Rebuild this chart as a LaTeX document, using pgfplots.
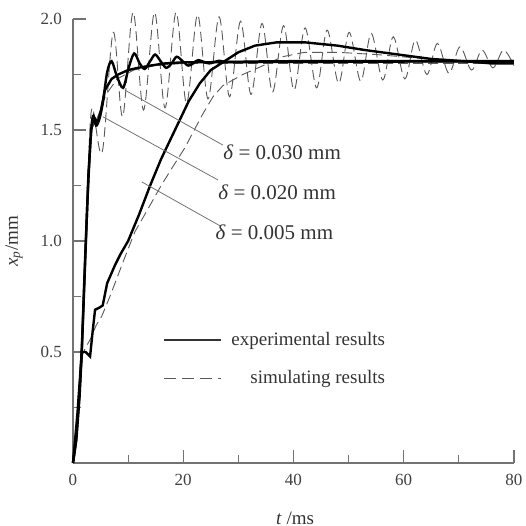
\documentclass[border=0pt]{standalone}
\usepackage{fontspec}
\setmainfont{Liberation Serif}
\usepackage{pgfplots}
\pgfplotsset{compat=1.18}
\definecolor{axgray}{gray}{0.45}
\definecolor{simgray}{gray}{0.35}

\begin{document}
\begin{tikzpicture}
\begin{axis}[
    scale only axis,
    width=220.5pt, height=222pt,
    xmin=0, xmax=80, ymin=0, ymax=2,
    axis lines=left,
    axis line style={-, axgray, line width=0.6pt},
    tick align=inside,
    major tick length=6.5pt, minor tick length=4pt,
    every tick/.style={axgray, line width=0.6pt},
    xtick={0,20,40,60,80},
    minor xtick={10,30,50,70},
    ytick={0.5,1,1.5,2},
    minor ytick={0.25,0.75,1.25,1.75},
    y tick label style={/pgf/number format/fixed, /pgf/number format/fixed zerofill,
        /pgf/number format/precision=1},
    /pgf/number format/assume math mode=true,
    ticklabel style={font=\fontsize{8.5}{10}\selectfont, text=black!75},
    xticklabel style={yshift=-2pt},
    yticklabel style={xshift=-2pt},
    clip=false,
    legend style={at={(axis cs:16.3,0.468)}, anchor=west, draw=none, fill=none,
        inner sep=0pt, row sep=11pt, font=\fontsize{9.5}{11}\selectfont,
        nodes={inner sep=0pt, text=black!80},
        /tikz/every odd column/.append style={column sep=5pt}},
    legend cell align=right,
    legend image code/.code={\draw[#1] (0pt,0pt) -- (28.5pt,0pt);},
]
\addlegendimage{black!80, line width=0.6pt}
\addlegendentry{experimental results}
\addlegendimage{simgray, line width=0.5pt, dash pattern=on 6pt off 3pt}
\addlegendentry{simulating results}

% delta = 0.030 mm, simulation
\addplot[simgray, line width=0.45pt, dash pattern=on 5pt off 2.5pt, smooth, tension=0.55, forget plot] coordinates {
(0,0) (0.6,0.12) (1.2,0.35) (1.6,0.55) (2.2,0.95) (2.8,1.35) (3.5,1.60) (5.3,1.40)
(7.3,1.94) (9.0,1.56) (10.9,2.03) (12.8,1.59) (14.8,2.03) (16.7,1.60) (18.7,2.03)
(20.6,1.62) (22.6,2.02) (24.5,1.64) (26.5,2.01) (28.4,1.65) (30.4,1.99) (32.3,1.66)
(34.3,1.98) (36.2,1.67) (38.2,1.97) (40.1,1.68) (42.1,1.96) (44.2,1.69) (46.1,1.95)
(48.2,1.71) (50.1,1.94) (52.2,1.72) (54.1,1.935) (56.2,1.725) (58.1,1.92) (60.2,1.73)
(62.1,1.905) (64.2,1.75) (66.1,1.89) (68.2,1.755) (70.2,1.875) (72.3,1.77) (74.2,1.86)
(76.2,1.78) (78.1,1.86) (80,1.79)
};
% delta = 0.020 mm, simulation
\addplot[simgray, line width=0.45pt, dash pattern=on 5pt off 2.5pt, forget plot] coordinates {
(0,0) (0.6,0.1) (1.2,0.3) (1.6,0.5) (2.2,0.88) (2.8,1.28) (3.3,1.5) (4.5,1.56) (6,1.66)
(8,1.73) (11,1.77) (15,1.79) (20,1.80) (80,1.80)
};
% delta = 0.005 mm, simulation
\addplot[simgray, line width=0.45pt, dash pattern=on 5pt off 2.5pt, forget plot] coordinates {
(0,0) (0.8,0.2) (1.6,0.48) (2.3,0.52) (3.2,0.56) (4.2,0.62) (5.2,0.66) (6.7,0.75)
(9,0.90) (11.2,1.04) (13.5,1.14) (16,1.25) (18,1.33) (20.3,1.42) (22,1.50) (23.5,1.57)
(25.4,1.65) (27.2,1.70) (30.8,1.75) (34.5,1.79) (38,1.83) (42,1.85) (48,1.85)
(55,1.84) (62,1.825) (70,1.81) (80,1.80)
};

% delta = 0.030 mm, experiment
\addplot[black, line width=1.2pt, smooth, tension=0.5, forget plot] coordinates {
(0,0) (0.6,0.12) (1.2,0.33) (1.6,0.52) (2.2,0.92) (2.7,1.22) (3.2,1.46) (3.6,1.56)
(4.2,1.52) (4.8,1.55) (5.4,1.62) (6.2,1.76) (7.0,1.81) (8.0,1.74) (9.1,1.69) (10.1,1.78)
(11.1,1.845) (12.1,1.80) (13,1.775) (14,1.81) (14.9,1.84) (15.9,1.81) (16.9,1.78)
(17.9,1.80) (18.8,1.83) (19.9,1.81) (20.9,1.79) (21.8,1.80) (22.7,1.815) (24.7,1.80)
(26.5,1.812) (28.5,1.807) (40,1.81) (80,1.81)
};
% delta = 0.020 mm, experiment
\addplot[black, line width=1.2pt, forget plot] coordinates {
(0,0) (0.6,0.1) (1.2,0.3) (1.6,0.5) (2.2,0.9) (2.8,1.3) (3.3,1.5) (3.8,1.56) (4.4,1.53)
(5.0,1.58) (5.8,1.68) (7,1.73) (8.2,1.75) (10,1.77) (11.8,1.78) (14,1.79) (16.7,1.80)
(20,1.805) (80,1.81)
};
% delta = 0.005 mm, experiment
\addplot[black, line width=1.2pt, forget plot] coordinates {
(0,0) (0.8,0.22) (1.6,0.5) (2.3,0.5) (3.1,0.48) (3.6,0.6) (4.0,0.69) (4.8,0.70)
(5.4,0.71) (6.2,0.81) (7.6,0.89) (8.6,0.94) (10,1.0) (12,1.12) (14,1.25) (16,1.37)
(18.5,1.5) (21,1.63) (23,1.71) (25,1.77) (27.5,1.81) (30,1.85) (33,1.88) (37,1.895)
(42,1.895) (48,1.88) (53,1.86) (59,1.84) (65,1.82) (71,1.81) (76,1.80) (80,1.80)
};

% leader lines
\addplot[black!55, line width=0.4pt, forget plot] coordinates {(9.4,1.68) (27.2,1.432)};
\addplot[black!55, line width=0.4pt, forget plot] coordinates {(5.4,1.56) (26.3,1.275)};
\addplot[black!55, line width=0.4pt, forget plot] coordinates {(12.5,1.266) (26.7,1.068)};

\node[anchor=west, inner sep=0pt, font=\fontsize{10.5}{12}\selectfont, text=black!80]
    at (axis cs:27.2,1.40) {\textit{δ} = 0.030 mm};
\node[anchor=west, inner sep=0pt, font=\fontsize{10.5}{12}\selectfont, text=black!80]
    at (axis cs:26.3,1.22) {\textit{δ} = 0.020 mm};
\node[anchor=west, inner sep=0pt, font=\fontsize{10.5}{12}\selectfont, text=black!80]
    at (axis cs:25.8,1.04) {\textit{δ} = 0.005 mm};

\node[font=\fontsize{9.5}{11}\selectfont, text=black!80] at (axis cs:40.3,-0.248) {\textit{t} /ms};
\node[rotate=90, font=\fontsize{9.5}{11}\selectfont, text=black!80] at (axis cs:-10.7,1.0)
    {\textit{x}\textsubscript{\itshape p}/mm};

\coordinate (bbl) at (axis cs:-13.24,-0.2838);
\coordinate (btr) at (axis cs:82.18,2.0856);
\end{axis}
\pgfresetboundingbox
\path (bbl) rectangle (btr);
\end{tikzpicture}
\end{document}
